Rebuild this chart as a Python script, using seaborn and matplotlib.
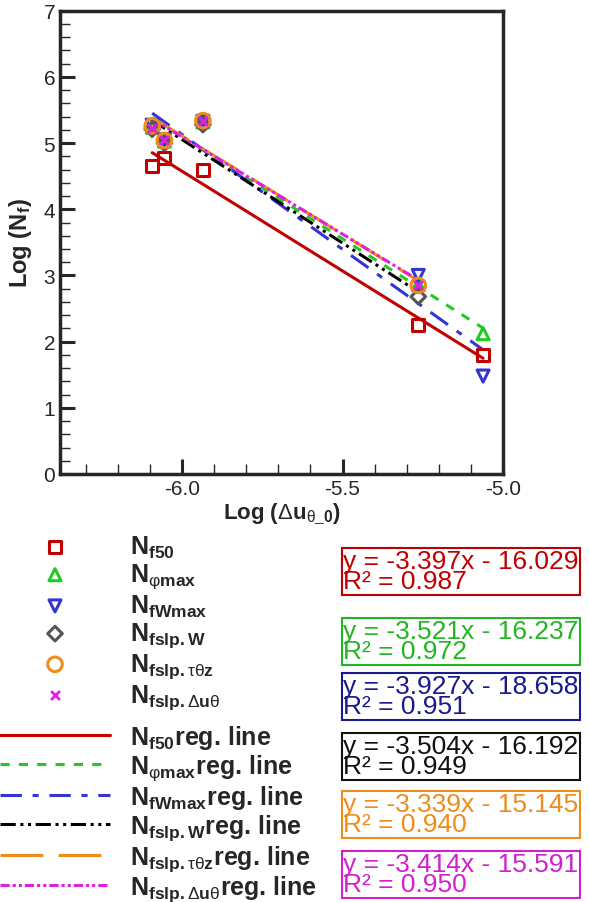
import numpy as np
import matplotlib
matplotlib.use('Agg')
import matplotlib.pyplot as plt
from matplotlib.ticker import MultipleLocator, FormatStrFormatter
import seaborn as sns

# === Data ===
x_log = [-6.093, -6.055, -5.935, -5.264, -5.062]

nf50 = [4.66, 4.77, 4.60, 2.25, 1.80]
nphimax = [5.24, 5.03, 5.32, 2.86, 2.12]
nfwmax = [5.27, 5.05, 5.33, 3.00, 1.48]
nfslp_w = [5.21, 5.00, 5.28, 2.68]
nfslp_tz = [5.26, 5.04, 5.34, 2.85]
nfslp_du = [5.23, 5.04, 5.33, 2.86]

equations = [
    "y = -3.397x - 16.029", "y = -3.521x - 16.237", "y = -3.927x - 18.658",
    "y = -3.504x - 16.192", "y = -3.339x - 15.145", "y = -3.414x - 15.591",
]
r2_values = ["0.987", "0.972", "0.951", "0.949", "0.940", "0.950"]

subscripts = [
    r'\mathbf{f50}',
    r'\mathrm{φ}\mathbf{max}',
    r'\mathbf{fWmax}',
    r'\mathbf{fslp{.}W}',
    r'\mathbf{fslp{.}}\mathrm{τθ}\mathbf{z}',
    r'\mathbf{fslp{.}}\mathrm{Δ}\mathbf{u}\mathrm{θ}',
]

# === Styles ===
series = [nf50, nphimax, nfwmax, nfslp_w, nfslp_tz, nfslp_du]
colors = ['#c00000', '#22c922', '#3535d5', '#555555', '#ee8c1c', '#e020e0']
text_colors = ['#c00000', '#22b522', '#1a1a8c', '#111111', '#ee8c1c', '#d020d0']
markers = ['s', '^', 'v', 'D', 'o', 'x']
marker_sizes = [75, 75, 75, 55, 110, 40]
line_colors = ['#c00000', '#22c922', '#3535d5', '#000000', '#ee8c1c', '#e020e0']
dashes = [None, (3, 3), (7, 3.5, 2, 3.5), (5, 1.5, 1, 1.5, 1, 1.5), (14, 5), (3, 1, 1, 1, 1, 1)]
box_tops_px = [548, 618, 673, 733, 791, 851]

sns.set_style('ticks')
plt.rcParams['font.family'] = ['Liberation Sans', 'DejaVu Sans']
plt.rcParams['mathtext.fontset'] = 'custom'
plt.rcParams['mathtext.rm'] = 'Liberation Sans'
plt.rcParams['mathtext.bf'] = 'Liberation Sans:bold'
plt.rcParams['mathtext.it'] = 'Liberation Sans:italic'

fig = plt.figure(figsize=(5.89, 9.03), dpi=100)
ax = fig.add_axes([0.102, 0.474, 0.752, 0.513])

# markers first, drawn on top
for y, c, m, s, sub in zip(series, colors, markers, marker_sizes, subscripts):
    xs = x_log[:len(y)]
    lab = r'$\mathbf{N}_{' + sub + '}$'
    if m == 'x':
        sns.scatterplot(x=xs, y=y, marker='x', color=c, s=s, linewidth=2,
                        ax=ax, label=lab, zorder=4)
    else:
        sns.scatterplot(x=xs, y=y, marker=m, facecolor='none', edgecolor=c,
                        color=c, s=s, linewidth=2.2, ax=ax, label=lab, zorder=4)

# regression lines
for y, c, d, sub in zip(series, line_colors, dashes, subscripts):
    xs = x_log[:len(y)]
    lab = r'$\mathbf{N}_{' + sub + '}$reg. line'
    kws = dict(lw=2.2, zorder=3)
    if d is not None:
        kws['dashes'] = d
    sns.regplot(x=np.array(xs), y=np.array(y), scatter=False, ci=None,
                truncate=True, color=c, label=lab, line_kws=kws, ax=ax)

ax.set_xlim(-6.38, -5.0)
ax.set_ylim(0, 7)
ax.xaxis.set_major_locator(MultipleLocator(0.5))
ax.xaxis.set_minor_locator(MultipleLocator(0.1))
ax.xaxis.set_major_formatter(FormatStrFormatter('%.1f'))
ax.yaxis.set_major_locator(MultipleLocator(1))
ax.yaxis.set_minor_locator(MultipleLocator(0.2))
ax.tick_params(which='major', direction='in', length=11, width=2.2,
               labelsize=15, top=False, right=False)
ax.tick_params(which='minor', direction='in', length=7, width=1,
               top=False, right=False)
for sp in ax.spines.values():
    sp.set_linewidth(2.5)
    sp.set_visible(True)

ax.set_xlabel(r'Log ($\mathrm{Δ}\mathbf{u}_{\mathrm{θ}\mathbf{\_0}}$)',
              fontsize=16, fontweight='bold', labelpad=2)
ax.set_ylabel(r'Log ($\mathbf{N}_{\mathbf{f}}$)', fontsize=17,
              fontweight='bold', labelpad=7)

# two legend blocks: markers, then regression lines
handles, labels = ax.get_legend_handles_labels()
leg_kw = dict(loc='upper left', bbox_transform=fig.transFigure, frameon=False,
              prop={'weight': 'bold', 'size': 18}, handlelength=4.4,
              handletextpad=0.8, borderpad=0, borderaxespad=0, scatterpoints=1)
leg1 = ax.legend(handles[:6], labels[:6], bbox_to_anchor=(0.0, 0.408),
                 labelspacing=0.08, **leg_kw)
ax.add_artist(leg1)
ax.legend(handles[6:], labels[6:], bbox_to_anchor=(0.0, 0.1982),
          labelspacing=0.044, **leg_kw)

# equation boxes
for eq, r2, tc, top in zip(equations, r2_values, text_colors, box_tops_px):
    fig.text(0.583, 1 - (top + 2) / 903, eq + '\n' + 'R² = ' + r2,
             color=tc, fontsize=19, linespacing=0.8, va='top', ha='left',
             bbox=dict(boxstyle='square,pad=0.05', fc='white', ec=tc, lw=1.5))

fig.savefig('out.png', dpi=100)
